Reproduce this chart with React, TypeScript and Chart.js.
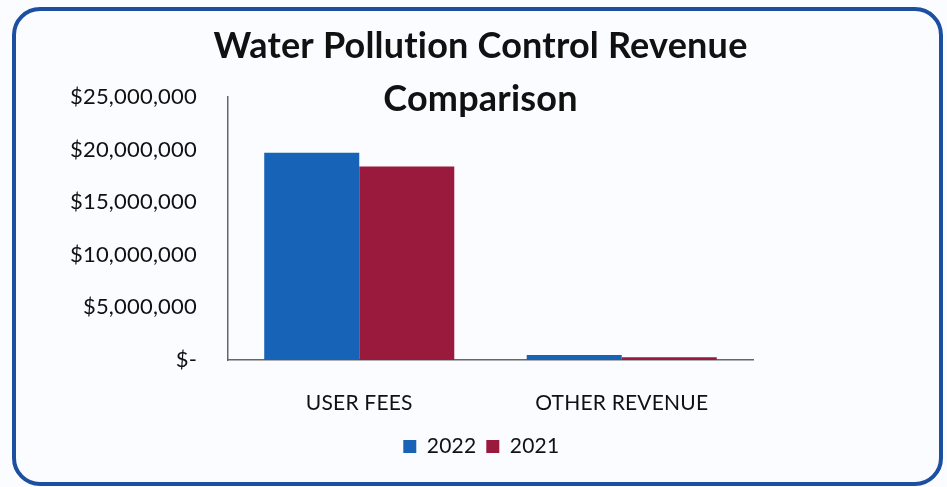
import React, { useEffect, useRef } from "react";
import { Chart, registerables } from "chart.js";

Chart.register(...registerables);

const categories = ["USER FEES", "OTHER REVENUE"];
const seriesLabels = ["2022", "2021"];
const values2022 = [19700000, 480000];
const values2021 = [18400000, 250000];
const yTicks = [0, 5000000, 10000000, 15000000, 20000000, 25000000];
const titleLines = ["Water Pollution Control Revenue", "Comparison"];

const FONT = "Lato, 'Open Sans', sans-serif";

function fmt(v: number): string {
  if (v === 0) return "$-";
  return "$" + v.toLocaleString("en-US");
}

const noLigatures = {
  id: "noLigatures",
  beforeDraw(chart: any) {
    try {
      chart.ctx.letterSpacing = "0.2px";
    } catch (e) {}
  },
};

export default function App() {
  const ref = useRef<HTMLCanvasElement | null>(null);
  useEffect(() => {
    if (!ref.current) return;
    const chart = new Chart(ref.current, {
      type: "bar",
      data: {
        labels: categories,
        datasets: [
          {
            label: seriesLabels[0],
            data: values2022,
            backgroundColor: "#1763b8",
            borderWidth: 0,
            yAxisID: "y",
          },
          {
            label: seriesLabels[1],
            data: values2021,
            backgroundColor: "#9a1a3d",
            borderWidth: 0,
            yAxisID: "y",
          },
        ],
      },
      plugins: [noLigatures],
      options: {
        animation: false,
        responsive: true,
        maintainAspectRatio: false,
        layout: { padding: { left: 14, right: 0, top: 0, bottom: 20 } },
        datasets: { bar: { categoryPercentage: 0.724, barPercentage: 1 } },
        plugins: {
          tooltip: { enabled: false },
          title: {
            display: true,
            text: titleLines,
            color: "#111",
            font: { family: FONT, size: 36, weight: "bold", lineHeight: 53 / 36 },
            padding: { top: 20, bottom: -29 },
          },
          legend: {
            position: "bottom",
            labels: {
              color: "#111",
              font: { family: FONT, size: 21 },
              boxWidth: 13,
              boxHeight: 13,
              padding: 10,
            },
          },
        },
        scales: {
          x: {
            grid: { display: false },
            border: { display: true, color: "#666", width: 1.5 },
            ticks: { color: "#111", font: { family: FONT, size: 21 }, padding: 23 },
            afterFit: (s: any) => {
              s.height = 66;
            },
          },
          y: {
            min: 0,
            max: 25000000,
            grid: { display: false, drawTicks: false },
            border: { display: true, color: "#666", width: 1.5 },
            afterBuildTicks: (s: any) => {
              s.ticks = yTicks.map((v) => ({ value: v }));
            },
            ticks: {
              color: "#111",
              font: { family: FONT, size: 22 },
              padding: 31,
              callback: (v: any) => fmt(Number(v)),
            },
            afterFit: (s: any) => {
              s.width = 214;
            },
          },
          y2: {
            position: "right",
            display: true,
            grid: { display: false, drawTicks: false },
            border: { display: false },
            ticks: { display: false },
            afterFit: (s: any) => {
              s.width = 194;
            },
          },
        },
      } as any,
    });
    return () => chart.destroy();
  }, []);

  return (
    <div
      style={{
        position: "fixed",
        left: 0,
        top: 0,
        width: 947,
        height: 487,
        background: "#fbfcff",
      }}
    >
      <div
        style={{
          position: "absolute",
          left: 12,
          top: 7,
          width: 931,
          height: 479,
          boxSizing: "border-box",
          border: "4px solid #1c4fa0",
          borderRadius: 28,
        }}
      />
      <div style={{ position: "absolute", left: 0, top: 0, width: 947, height: 487 }}>
        <canvas ref={ref} />
      </div>
    </div>
  );
}
